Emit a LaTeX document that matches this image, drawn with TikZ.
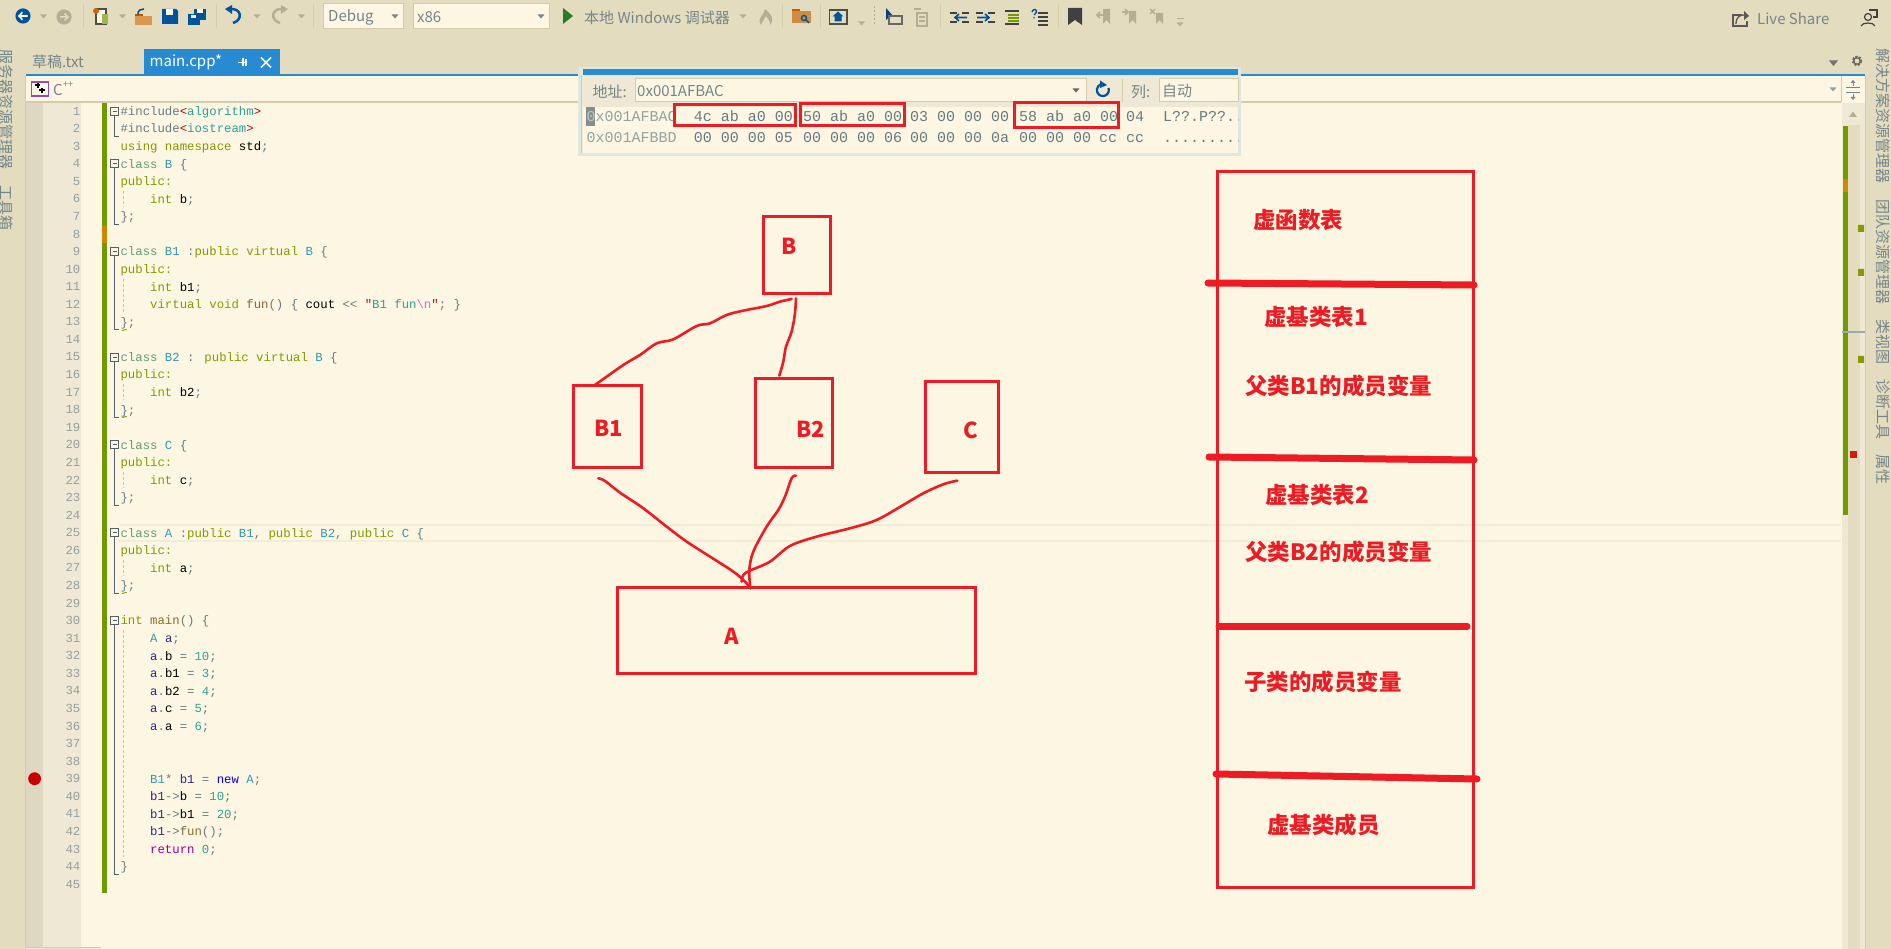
\documentclass[tikz,border=0pt]{standalone}
\usepackage{fontspec}
\setmainfont{Noto Sans CJK SC}
\newfontfamily\srcfont{Liberation Mono}[Ligatures=NoCommon]
\definecolor{chrome}{HTML}{E4DCBF}
\definecolor{paper}{HTML}{FDF6E3}
\definecolor{panel}{HTML}{EEE8D5}
\definecolor{glyphm}{HTML}{DED7C1}
\definecolor{edgec}{HTML}{D3CBA9}
\definecolor{vsblue}{HTML}{268BD2}
\definecolor{navy}{HTML}{00539C}
\definecolor{inkred}{HTML}{ED1C24}
\definecolor{chg}{HTML}{6F9A00}
\definecolor{uigray}{HTML}{73868A}
\definecolor{dimgray}{HTML}{B4AE96}
\definecolor{lnum}{HTML}{93A1A1}
\definecolor{ckw}{HTML}{859900}
\definecolor{cty}{HTML}{2E9BB0}
\definecolor{ccl}{HTML}{5F9E78}
\definecolor{cte}{HTML}{2AA198}
\definecolor{cpu}{HTML}{657B83}
\definecolor{cfn}{HTML}{8A6A2A}
\definecolor{cvr}{HTML}{2D2A7A}
\newcommand\cK[1]{\textcolor{ckw}{#1}}
\newcommand\cT[1]{\textcolor{cty}{#1}}
\newcommand\cC[1]{\textcolor{ccl}{#1}}
\newcommand\cN[1]{\textcolor{cte}{#1}}
\newcommand\cP[1]{\textcolor{cpu}{#1}}
\newcommand\cF[1]{\textcolor{cfn}{#1}}
\newcommand\cV[1]{\textcolor{cvr}{#1}}
\newcommand\cR[1]{\textcolor{red!80!black}{#1}}
\newcommand\srcln[3]{\node[srctext] (src#1) at ({120.4+#2*7.4},{115.4+(#1-1)*17.57}) {#3};}
\newcommand\foldbox[1]{\draw[foldc,fill=paper] ({110.8},{107+(#1-1)*17.57}) rectangle ++(8,8);\draw[foldc] (112.5,{111+(#1-1)*17.57}) -- ++(4.4,0);}
\newcommand\foldrun[2]{\draw[foldc] (114.8,{115+(#1-1)*17.57}) -- (114.8,{119+(#2-1)*17.57}) -- ++(4,0);}
\newcommand\guide[2]{\draw[guidec] (123.4,{103+(#1-1)*17.57}) -- (123.4,{119+(#2-1)*17.57});}
\newcommand\ddt[3]{\fill[#3] ({#1-3.4},{#2-1.5}) -- ++(6.8,0) -- ++(-3.4,4) -- cycle;}
\tikzset{
  srctext/.style={font=\srcfont\fontsize{12.33}{14}\selectfont,anchor=base west,inner sep=0,text=black},
  foldc/.style={draw=cpu!80!black,line width=0.8},
  guidec/.style={draw=lnum!60,line width=0.7,dash pattern=on 3 off 2},
  lnumber/.style={font=\srcfont\fontsize{12.33}{14}\selectfont,text=lnum,anchor=east,inner sep=0},
  uitext/.style={font=\fontsize{15}{17}\selectfont,text=uigray,inner sep=0,anchor=west},
  sidetext/.style={font=\fontsize{15}{15}\selectfont,text=uigray,inner sep=0,anchor=west,rotate=-90},
  memtext/.style={font=\srcfont\fontsize{15}{17}\selectfont,text=cpu,inner sep=0,anchor=base west},
  inkbox/.style={draw=inkred,line width=3,inner sep=0,minimum width=#1},
  inknote/.style={font=\bfseries\fontsize{22.5}{24}\selectfont,text=inkred,inner sep=0,anchor=west},
  inkletter/.style={font=\bfseries\fontsize{22}{24}\selectfont,text=inkred,inner sep=0},
  hand/.style={draw=inkred,line width=2.6,line cap=round,line join=round},
  bar/.style={draw=inkred,line width=7,line cap=round},
  sep/.style={draw=edgec,line width=1},
}
\begin{document}
\begin{tikzpicture}[x=1pt,y=-1pt]
\useasboundingbox (0,0) rectangle (1891,949);
% chrome and editor surface
\fill[chrome] (0,0) rectangle (1891,949);
\fill[paper] (26,76) rectangle (1865,949);
\fill[glyphm] (26,103) rectangle (43,949);
\fill[panel] (43,103) rectangle (81,949);
\draw[edgec,line width=1] (25.5,76) -- (25.5,949);
\fill[panel] (27,947) rectangle (101,949);
\draw[edgec,line width=0.8] (27,947) -- (101,947);
% tab strip
\fill[vsblue] (26,74) rectangle (1865,76);
\fill[vsblue] (144,49) rectangle (280,74);
\node[uitext] (tabdraft) at (32,62) {草稿.txt};
\node[uitext,text=white] (tabmain) at (149.5,62.5) {main.cpp*};
\draw[white,line width=1.2] (238,62.5) -- (246,62.5) (243,58.5) -- (243,66.5) (246,59) -- (246,66);
\draw[white,line width=1.6] (261,57.5) -- (271,67.5) (271,57.5) -- (261,67.5);
\fill[black!55] (1829,60.5) -- (1838,60.5) -- (1833.5,66) -- cycle;
\draw[black!60,line width=2.4,dash pattern=on 2.2 off 1.1] (1857,61) circle (4);
\draw[black!60,line width=1] (1857,61) circle (3.2);
% navigation bar
\draw[edgec,line width=1.5] (26,102) -- (1841,102);
\draw[edgec,line width=1] (1841,76) -- (1841,102);
\draw[purple!55!blue!70,line width=1.2,fill=paper] (31.5,82) rectangle (48.5,96);
\draw[black,line width=2] (35,85.5) -- (40,85.5) (37.5,83.5) -- (37.5,88) (39,90.5) -- (45,90.5) (42,88) -- (42,93);
\node[uitext,font=\fontsize{15}{17}\selectfont] (lang) at (53,90) {C};
\node[uitext,font=\fontsize{9}{9}\selectfont] (langpp) at (63,85) {++};
\ddt{1833}{89}{lnum}
\draw[uigray,line width=1] (1846,87.5) -- (1860,87.5) (1846,92.5) -- (1860,92.5) (1853,81) -- (1853,86) (1853,94) -- (1853,99);
\fill[uigray] (1850.5,83) -- (1855.5,83) -- (1853,80) -- cycle (1850.5,97) -- (1855.5,97) -- (1853,100) -- cycle;
% toolbar: navigation
\fill[navy] (23,16) circle (7.6);
\draw[white,line width=1.6] (27.5,16) -- (19,16) (22.5,12.3) -- (19,16) -- (22.5,19.7);
\ddt{43.5}{16}{dimgray}
\fill[dimgray] (64,17) circle (7.6);
\draw[chrome,line width=1.5] (60,17) -- (68,17) (64.5,13.5) -- (68,17) -- (64.5,20.5);
\draw[sep] (83,4) -- (83,28);
% new, open, save
\draw[black!70,line width=1.2,fill=paper] (96,9) rectangle (106,24);
\fill[chg!70] (102,14) rectangle (108,24);
\fill[orange!80!black] (96,11) circle (3);
\ddt{122.5}{16}{dimgray}
\fill[orange!55!chrome!90!black] (135,16) rectangle (152,25);
\fill[orange!70!black] (135,14) rectangle (143,16);
\draw[navy,line width=1.6] (138,14) .. controls (138,10) and (141,9) .. (144,9);
\fill[navy] (165,9) -- (176,9) -- (178,11) -- (178,24) -- (162,24) -- (162,9) -- cycle;
\fill[paper] (166,9.5) rectangle (173,15);
\fill[navy] (188,14) rectangle (200,25);
\fill[navy] (194,9) rectangle (206,20);
\fill[paper] (197,9.5) rectangle (203,13);
\fill[paper] (191,15) rectangle (196,18);
\draw[sep] (216,4) -- (216,28);
% undo, redo
\draw[navy,line width=2.5] (230,9) .. controls (242,8) and (243,20) .. (233,23);
\fill[navy] (225,9) -- (232,5) -- (232,14) -- cycle;
\ddt{257}{16}{dimgray}
\draw[dimgray,line width=2.5] (283,9) .. controls (271,8) and (270,20) .. (280,23);
\fill[dimgray] (288,9) -- (281,5) -- (281,14) -- cycle;
\ddt{301.5}{16}{dimgray}
\draw[sep] (313,4) -- (313,28);
% configuration boxes
\draw[edgec,line width=1,fill=paper] (323.5,3.5) rectangle (403,29);
\node[uitext] (cfgdebug) at (328,17) {Debug};
\ddt{395}{16}{uigray}
\draw[edgec,line width=1,fill=paper] (413,3.5) rectangle (549,29);
\node[uitext] (cfgx) at (417,17) {x86};
\ddt{541}{16}{uigray}
\fill[green!40!black!85] (563,8) -- (573,16) -- (563,24) -- cycle;
\node[uitext] (runlabel) at (584,17.5) {本地 Windows 调试器};
\ddt{743}{16}{dimgray}
\fill[dimgray] (761,25) .. controls (756,17) and (765,15) .. (765,9) .. controls (771,14) and (775,19) .. (770,25) .. controls (771,21) and (767,18) .. (766,16) .. controls (765,19) and (762,21) .. (761,25) -- cycle;
\draw[sep] (782,4) -- (782,28);
% toolbar: browse and bookmarks
\fill[orange!60!chrome!85!black] (792,11) rectangle (811,23);
\fill[orange!75!black] (792,9) rectangle (800,11);
\draw[navy,line width=1.4] (804,18) circle (2.5) (806,20) -- (809,23);
\draw[sep] (820,4) -- (820,28);
\draw[black!70,line width=1.3] (829.5,10) rectangle (847,24);
\fill[navy] (838,11.5) -- (843.5,16.5) -- (841.5,16.5) -- (841.5,21.5) -- (834.5,21.5) -- (834.5,16.5) -- (832.5,16.5) -- cycle;
\ddt{861.5}{23}{dimgray}
\draw[dimgray,line width=1,dash pattern=on 2 off 2] (874,6) -- (874,26);
\fill[navy!80!black] (886,8) -- (886,20) -- (889,17) -- (894,17) -- cycle;
\draw[black!60,line width=1.2] (889,16) rectangle (902,24);
\draw[dimgray,line width=1.4] (914,9) -- (921,9) (917,13) rectangle (927,26) (919,17) -- (925,17) (919,21) -- (925,21);
\draw[sep] (940,4) -- (940,28);
\draw[black!75,line width=1.6] (950,13) -- (957,13) (950,22) -- (957,22) (962,13) -- (969,13) (962,22) -- (969,22);
\draw[navy,line width=1.6] (967,17.5) -- (955,17.5) (959,14) -- (955,17.5) -- (959,21);
\draw[black!75,line width=1.6] (976,13) -- (983,13) (976,22) -- (983,22) (988,13) -- (995,13) (988,22) -- (995,22);
\draw[navy,line width=1.6] (977,17.5) -- (989,17.5) (985,14) -- (989,17.5) -- (985,21);
\draw[black!75,line width=1.5] (1005,11) -- (1019,11) (1005,24) -- (1019,24);
\draw[chg,line width=1.3] (1008,15) -- (1019,15) (1008,18) -- (1019,18) (1008,21) -- (1019,21);
\draw[navy,line width=1.4] (1032,12) .. controls (1033,8) and (1038,9) .. (1036,13) -- (1034,15) (1034,17) -- (1034,18.5);
\draw[black!75,line width=1.3] (1038,13) -- (1048,13) (1038,17) -- (1048,17) (1038,21) -- (1048,21) (1038,25) -- (1048,25);
\draw[sep] (1058,4) -- (1058,28);
\fill[black!75] (1068,8) -- (1082,8) -- (1082,25) -- (1075,20) -- (1068,25) -- cycle;
\fill[dimgray] (1103,9) -- (1110,9) -- (1110,24) -- (1106.5,20) -- (1103,24) -- cycle;
\draw[dimgray,line width=1.6] (1098,15) -- (1103,15) (1100,12) -- (1097,15) -- (1100,18);
\fill[dimgray] (1129,11) -- (1136,11) -- (1136,24) -- (1132.5,20) -- (1129,24) -- cycle;
\draw[dimgray,line width=1.6] (1122,12) -- (1128,12) (1125,9) -- (1128,12) -- (1125,15);
\fill[dimgray] (1156,13) -- (1163,13) -- (1163,24) -- (1159.5,20) -- (1156,24) -- cycle;
\draw[dimgray,line width=1.4] (1150,9) -- (1155,14) (1155,9) -- (1150,14);
\ddt{1180}{24}{dimgray}
\draw[dimgray,line width=1] (1176.5,19) -- (1183.5,19);
% right of toolbar
\draw[black!65,line width=1.3] (1742,15) -- (1733,15) -- (1733,26) -- (1747,26) -- (1747,21);
\draw[black!65,line width=1.3] (1736,24) .. controls (1736,17) and (1740,15) .. (1744,15);
\fill[black!65] (1744,11) -- (1749,16) -- (1744,20) -- cycle;
\node[uitext] (liveshare) at (1757,18.5) {Live Share};
\draw[black!75,line width=1.2] (1868,17) circle (3.5);
\draw[black!75,line width=1.2] (1861,26) .. controls (1862,22) and (1874,22) .. (1875,26);
\draw[black!75,line width=1.2] (1869,10) -- (1877,10) -- (1877,17) -- (1873,17);
% side tool strips
\node[sidetext] (s1) at (6,49) {服务器资源管理器};
\node[sidetext] (s2) at (6,185) {工具箱};
\node[sidetext] (r1) at (1883,48) {解决方案资源管理器};
\node[sidetext] (r2) at (1883,199) {团队资源管理器};
\node[sidetext] (r3) at (1883,319) {类视图};
\node[sidetext] (r4) at (1883,379) {诊断工具};
\node[sidetext] (r5) at (1883,454) {属性};
\draw[edgec,line width=1] (1865.5,76) -- (1865.5,949);
% scrollbar
\fill[panel] (1842,103) rectangle (1865,949);
\fill[chrome] (1848,125) rectangle (1860,949);
\fill[dimgray] (1849,117) -- (1857,117) -- (1853,111.5) -- cycle;
\fill[chg] (1843.3,126) rectangle (1848,515);
\fill[orange!65!chg] (1843.3,179) rectangle (1848,192);
\fill[ckw] (1858,225) rectangle (1864,232) (1858,269) rectangle (1864,276) (1858,356) rectangle (1864,363);
\fill[red!80!black!90] (1850,451) rectangle (1857,458);
\draw[uigray!70,line width=2] (1842,332) -- (1865,332);
% change bar
\fill[chg] (102,103) rectangle (107,893);
\fill[orange!65!chg] (102,226) rectangle (107,243);
% current line
\draw[panel!75!paper,line width=1.2] (119,525) -- (1841,525) (119,541) -- (1841,541);
% breakpoint
\fill[red!78!black] (34.6,778.7) circle (6.4);
% line numbers
\foreach \n in {1,...,45}{
  \node[lnumber] (num\n) at (80.5,{111+(\n-1)*17.57}) {\n};
}
% fold margin
\foldrun{1}{2}\foldrun{4}{7}\foldrun{9}{13}\foldrun{15}{18}\foldrun{20}{23}\foldrun{25}{28}\foldrun{30}{44}
\foldbox{1}\foldbox{4}\foldbox{9}\foldbox{15}\foldbox{20}\foldbox{25}\foldbox{30}
\guide{6}{6}\guide{11}{12}\guide{17}{17}\guide{22}{22}\guide{27}{27}\guide{31}{43}
\draw[ckw,line width=0.8] (122,330) .. controls (123,332) and (125,328) .. (127,330);
\draw[ckw,line width=0.8] (122,417) .. controls (123,419) and (125,415) .. (127,417);
\draw[ckw,line width=0.8] (122,593) .. controls (123,595) and (125,591) .. (127,593);
% source text
\srcln{1}{0}{\cP{\#include}\cR{<}\cN{algorithm}\cR{>}}
\srcln{2}{0}{\cP{\#include}\cR{<}\cN{iostream}\cR{>}}
\srcln{3}{0}{\cK{using namespace} std\cP{;}}
\srcln{4}{0}{\cC{class} \cT{B} \cP{\{}}
\srcln{5}{0}{\cK{public:}}
\srcln{6}{4}{\cK{int} b\cP{;}}
\srcln{7}{0}{\cP{\};}}
\srcln{9}{0}{\cC{class} \cT{B1} \cP{:}\cK{public virtual} \cT{B} \cP{\{}}
\srcln{10}{0}{\cK{public:}}
\srcln{11}{4}{\cK{int} b1\cP{;}}
\srcln{12}{4}{\cK{virtual void} \cF{fun}\cP{() \{} cout \cP{<{}<} \cR{"}\cN{B1 fun}\textcolor{violet!50!magenta!60}{\textbackslash n}\cR{"}\cP{; \}}}
\srcln{13}{0}{\cP{\};}}
\srcln{15}{0}{\cC{class} \cT{B2} \cP{:} \cK{public virtual} \cT{B} \cP{\{}}
\srcln{16}{0}{\cK{public:}}
\srcln{17}{4}{\cK{int} b2\cP{;}}
\srcln{18}{0}{\cP{\};}}
\srcln{20}{0}{\cC{class} \cT{C} \cP{\{}}
\srcln{21}{0}{\cK{public:}}
\srcln{22}{4}{\cK{int} c\cP{;}}
\srcln{23}{0}{\cP{\};}}
\srcln{25}{0}{\cC{class} \cT{A} \cP{:}\cK{public} \cT{B1}\cP{,} \cK{public} \cT{B2}\cP{,} \cK{public} \cT{C} \cP{\{}}
\srcln{26}{0}{\cK{public:}}
\srcln{27}{4}{\cK{int} a\cP{;}}
\srcln{28}{0}{\cP{\};}}
\srcln{30}{0}{\cK{int} \cF{main}\cP{() \{}}
\srcln{31}{4}{\cT{A} \cV{a}\cP{;}}
\srcln{32}{4}{\cV{a}\cP{.}b \cP{=} \cN{10}\cP{;}}
\srcln{33}{4}{\cV{a}\cP{.}b1 \cP{=} \cN{3}\cP{;}}
\srcln{34}{4}{\cV{a}\cP{.}b2 \cP{=} \cN{4}\cP{;}}
\srcln{35}{4}{\cV{a}\cP{.}c \cP{=} \cN{5}\cP{;}}
\srcln{36}{4}{\cV{a}\cP{.}a \cP{=} \cN{6}\cP{;}}
\srcln{39}{4}{\cT{B1}\cP{*} \cV{b1} \cP{=} \textcolor{blue}{new} \cT{A}\cP{;}}
\srcln{40}{4}{\cV{b1}\cP{->}b \cP{=} \cN{10}\cP{;}}
\srcln{41}{4}{\cV{b1}\cP{->}b1 \cP{=} \cN{20}\cP{;}}
\srcln{42}{4}{\cV{b1}\cP{->}\cF{fun}\cP{();}}
\srcln{43}{4}{\textcolor{violet!80!magenta}{return} \cN{0}\cP{;}}
\srcln{44}{0}{\cP{\}}}
% memory window
\fill[vsblue!14!paper] (578,67) rectangle (1241,156);
\fill[panel] (580.5,69) rectangle (1238,153);
\draw[edgec,line width=1.5] (581.5,75) -- (581.5,153);
\fill[vsblue] (583,69) rectangle (1238,75);
\fill[panel] (583,75) rectangle (1238,107);
\fill[paper] (583,107) rectangle (1238,153);
\node[uitext] (addrlabel) at (592.5,91.5) {地址:};
\draw[edgec,line width=1,fill=paper] (635,79) rectangle (1086,102);
\node[uitext] (addrvalue) at (637,91) {0x001AFBAC};
\ddt{1076}{90}{black!60}
\draw[navy,line width=2.2] (1108.5,88) arc (-20:270:6);
\fill[navy] (1100,80.5) -- (1107,85) -- (1100,88) -- cycle;
\draw[sep] (1122,79) -- (1122,102);
\node[uitext] (collabel) at (1131,91.5) {列:};
\draw[edgec,line width=1,fill=paper] (1159,79) rectangle (1238,102);
\node[uitext] (colvalue) at (1162,91) {自动};
\fill[lnum!70!black!80] (586,107) rectangle (594.5,126);
\begin{scope}
\clip (583,107) rectangle (1238,153);
\node[memtext,text=lnum!60] (addr1a) at (586.5,122) {0};
\node[memtext,text=lnum] (addr1) at (595.5,122) {x001AFBAC};
\node[memtext,text=lnum] (addr2) at (586.5,143) {0x001AFBBD};
\node[memtext] (h1a) at (693.6,122) {4c ab a0 00};
\node[memtext] (h1b) at (803,122) {50 ab a0 00};
\node[memtext] (h1c) at (910,122) {03 00 00 00};
\node[memtext] (h1d) at (1019,122) {58 ab a0 00};
\node[memtext] (h1e) at (1126,122) {04};
\node[memtext] (asc1) at (1163,122) {L??.P??..};
\node[memtext] (h2a) at (693.6,143) {00 00 00 05};
\node[memtext] (h2b) at (803,143) {00 00 00 06};
\node[memtext] (h2c) at (910,143) {00 00 00 0a};
\node[memtext] (h2d) at (1019,143) {00 00 00};
\node[memtext] (h2e) at (1099,143) {cc};
\node[memtext] (h2f) at (1126,143) {cc};
\node[memtext] (asc2) at (1163,143) {.........};
\end{scope}
\node[inkbox=120.5,minimum height=21] (mark1) at (735.2,115.5) {};
\node[inkbox=104,minimum height=22] (mark2) at (852,115) {};
\node[inkbox=104,minimum height=25] (mark3) at (1066.5,115.5) {};
% inheritance sketch
\node[inkbox=67,minimum height=77] (B) at (796.5,255.5) {};
\node[inkletter] (Bt) at (789,246) {B};
\node[inkbox=68,minimum height=82] (B1) at (607,427) {};
\node[inkletter] (B1t) at (609,428) {B1};
\node[inkbox=77,minimum height=89] (B2) at (793.5,423.5) {};
\node[inkletter] (B2t) at (811,429) {B2};
\node[inkbox=73,minimum height=91] (C) at (961.5,427.5) {};
\node[inkletter] (Ct) at (971,430) {C};
\node[inkbox=358,minimum height=86] (A) at (796,630) {};
\node[inkletter] (At) at (732,636) {A};
\begin{scope}[shift={(550,200)},x=0.3333pt,y=-0.3333pt]
\coordinate (BtoB1s) at (725,297);
\coordinate (BtoB1e) at (135,555);
\coordinate (BtoB2s) at (738,295);
\coordinate (BtoB2e) at (688,527);
\coordinate (B1toAs) at (145,835);
\coordinate (B2toAs) at (738,827);
\coordinate (CtoAs) at (1222,842);
\coordinate (Ahit) at (601,1165);
\coordinate (Ccurl) at (575,1145);
\draw[hand] plot[smooth,tension=0.55] coordinates {(BtoB1s) (690,305) (650,318) (580,332) (530,345) (480,370) (440,378) (370,418) (320,430) (270,465) (220,495) (BtoB1e)};
\draw[hand] plot[smooth,tension=0.55] coordinates {(BtoB2s) (735,340) (725,395) (708,440) (700,485) (BtoB2e)};
\draw[hand] plot[smooth,tension=0.55] coordinates {(B1toAs) (165,843) (210,878) (280,925) (350,980) (410,1025) (480,1070) (550,1115) (585,1145) (Ahit)};
\draw[hand] plot[smooth,tension=0.55] coordinates {(B2toAs) (725,835) (705,890) (685,930) (650,980) (610,1055) (598,1110) (Ahit)};
\draw[hand] plot[smooth,tension=0.55] coordinates {(CtoAs) (1180,853) (1120,880) (1060,915) (980,960) (900,985) (800,1010) (720,1038) (660,1085) (600,1112) (580,1125) (Ccurl)};
\end{scope}
% memory layout sketch
\node[inkbox=256,minimum height=715] (layout) at (1345,529.5) {};
\coordinate (d1a) at (1208,283); \coordinate (d1b) at (1474,285);
\coordinate (d2a) at (1209,457); \coordinate (d2b) at (1474,460);
\coordinate (d3a) at (1219,626); \coordinate (d3b) at (1467,626);
\coordinate (d4a) at (1216,774); \coordinate (d4b) at (1477,779);
\draw[bar] (d1a) -- (d1b);
\draw[bar] (d2a) -- (d2b);
\draw[bar] (d3a) -- (d3b);
\draw[bar] (d4a) -- (d4b);
\node[inknote] (n1) at (1253,220) {虚函数表};
\node[inknote] (n2) at (1264,317) {虚基类表1};
\node[inknote] (n3) at (1245,386) {父类B1的成员变量};
\node[inknote] (n4) at (1265,495) {虚基类表2};
\node[inknote] (n5) at (1245,552) {父类B2的成员变量};
\node[inknote] (n6) at (1244,682) {子类的成员变量};
\node[inknote] (n7) at (1267,825) {虚基类成员};
\end{tikzpicture}
\end{document}
